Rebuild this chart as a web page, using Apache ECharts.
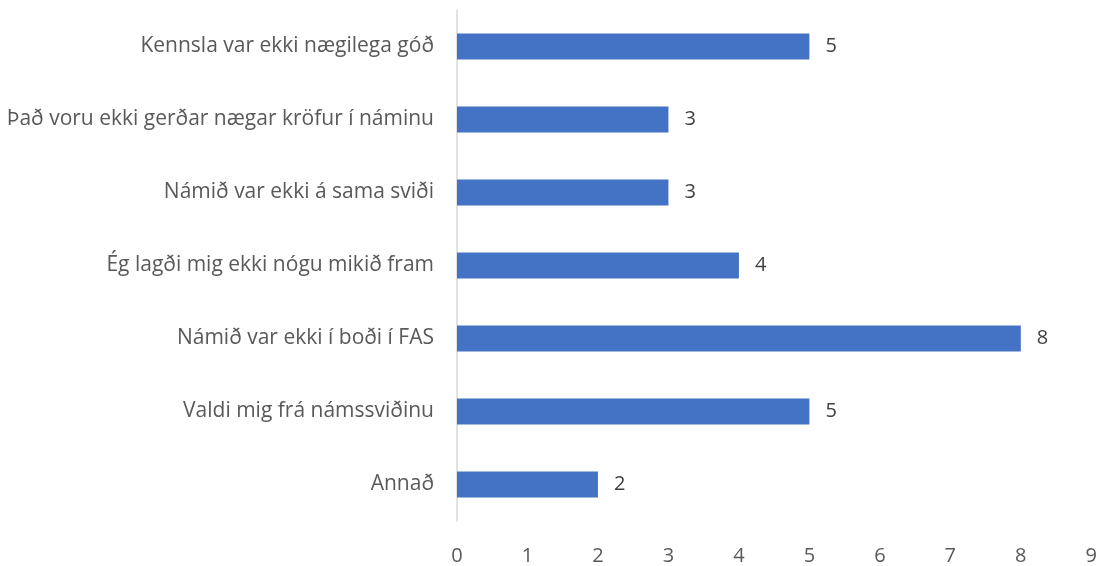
<!DOCTYPE html>
<html>
<head>
<meta charset="utf-8">
<script src="https://cdn.jsdelivr.net/npm/echarts@6/dist/echarts.min.js"></script>
<style>
  html, body { margin: 0; padding: 0; background: #fff; }
  #main { width: 1100px; height: 566px; }
</style>
</head>
<body>
<div id="main"></div>
<script>
// flokkar (neðst fyrst, eins og í Excel)
const categories = [
  'Annað',
  'Valdi mig frá námssviðinu',
  'Námið var ekki í boði í FAS',
  'Ég lagði mig ekki nógu mikið fram',
  'Námið var ekki á sama sviði',
  'Það voru ekki gerðar nægar kröfur í náminu',
  'Kennsla var ekki nægilega góð'
]
const values = [2, 5, 8, 4, 3, 3, 5]
const xTicks = [0, 1, 2, 3, 4, 5, 6, 7, 8, 9]

const chart = echarts.init(document.getElementById('main'))
const fontFamily = '"Open Sans", sans-serif'

chart.setOption({
  animation: false,
  grid: {
    left: 457,
    right: 8,
    top: 10,
    bottom: 43
  },
  xAxis: {
    type: 'value',
    min: xTicks[0],
    max: xTicks[xTicks.length - 1],
    interval: 1,
    axisLine: { show: false },
    axisTick: { show: false },
    splitLine: { show: false },
    axisLabel: {
      color: '#595959',
      fontSize: 20,
      fontFamily: fontFamily,
      margin: 25
    }
  },
  yAxis: {
    type: 'category',
    data: categories,
    axisLine: { show: true, lineStyle: { color: '#d9d9d9', width: 1.5 } },
    axisTick: { show: false },
    axisLabel: {
      color: '#595959',
      fontSize: 21,
      fontFamily: fontFamily,
      margin: 23
    }
  },
  series: [
    {
      type: 'bar',
      data: values,
      barWidth: 26,
      itemStyle: { color: '#4472c4' },
      label: {
        show: true,
        position: 'right',
        distance: 16,
        color: '#404040',
        fontSize: 20,
        fontFamily: fontFamily
      }
    }
  ]
})
</script>
</body>
</html>
